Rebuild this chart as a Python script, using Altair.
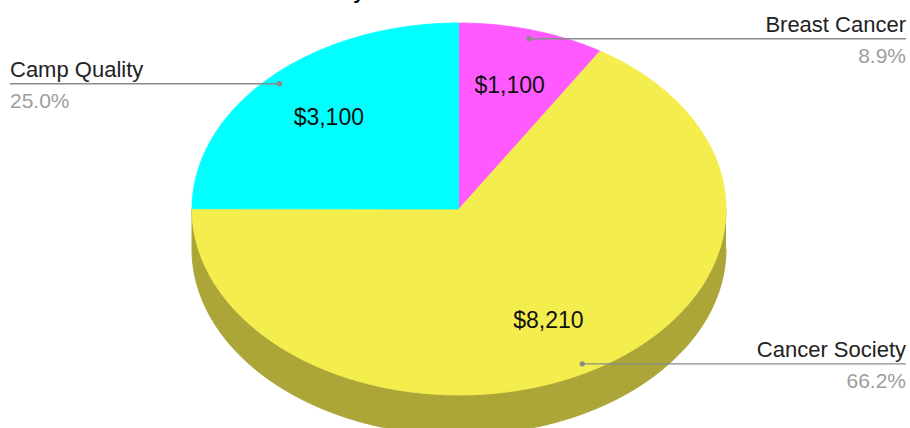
import altair as alt
import pandas as pd

# ---- data ----
labels = ["Breast Cancer", "Cancer Society", "Camp Quality"]
amounts = [1100, 8210, 3100]
top_colors = ["#ff5aff", "#f4ed4e", "#00ffff"]
side_colors = ["#a83ba8", "#aca639", "#00a8a8"]
title_text = "Money Raised for Cancer Charities"

# ---- layout (pixels) ----
W, H = 910, 428
CX, CY, RX, RY, DEPTH = 459, 209, 267, 186, 40
N = 120
LEFT_EDGE, RIGHT_EDGE = 10, 906
DOT_R = 0.952
VAL_R = 0.69
FONT = "Liberation Sans"

df = pd.DataFrame({"label": labels, "amount": amounts})

xs = alt.Scale(domain=[0, W], nice=False, zero=False)
ys = alt.Scale(domain=[0, H], nice=False, zero=False, reverse=True)
top_scale = alt.Scale(domain=labels, range=top_colors)
side_scale = alt.Scale(domain=labels, range=side_colors)

base = (
    alt.Chart(df)
    .transform_joinaggregate(total="sum(amount)")
    .transform_window(cum="sum(amount)", frame=[None, 0])
    .transform_calculate(a0="2*PI*(datum.cum - datum.amount)/datum.total")
    .transform_calculate(a1="2*PI*datum.cum/datum.total")
    .transform_calculate(frac="datum.amount/datum.total")
    .transform_calculate(mid="(datum.a0 + datum.a1)/2")
)

# front wall (3D depth)
wall = (
    base.transform_calculate(w0="max(datum.a0, PI/2)")
    .transform_calculate(w1="min(datum.a1, 3*PI/2)")
    .transform_filter("datum.w1 > datum.w0")
    .transform_calculate(s=f"sequence(0, {2 * N + 2})")
    .transform_flatten(["s"])
    .transform_calculate(
        ang=f"datum.s <= {N} ? datum.w0 + (datum.w1 - datum.w0) * datum.s / {N} "
        f": datum.w1 - (datum.w1 - datum.w0) * (datum.s - {N + 1}) / {N}"
    )
    .transform_calculate(dz=f"datum.s <= {N} ? 0 : {DEPTH}")
    .transform_calculate(px=f"{CX} + {RX} * sin(datum.ang)")
    .transform_calculate(py=f"{CY} - {RY} * cos(datum.ang) + datum.dz")
    .mark_line(strokeWidth=1, interpolate="linear")
    .encode(
        x=alt.X("px:Q", scale=xs, axis=None),
        y=alt.Y("py:Q", scale=ys, axis=None),
        fill=alt.Fill("label:N", scale=side_scale, legend=None),
        stroke=alt.Stroke("label:N", scale=side_scale, legend=None),
        order=alt.Order("s:Q"),
    )
)

# top faces
top = (
    base.transform_calculate(s=f"sequence(0, {N + 2})")
    .transform_flatten(["s"])
    .transform_calculate(ang=f"datum.a0 + (datum.a1 - datum.a0) * (datum.s - 1) / {N}")
    .transform_calculate(px=f"datum.s == 0 ? {CX} : {CX} + {RX} * sin(datum.ang)")
    .transform_calculate(py=f"datum.s == 0 ? {CY} : {CY} - {RY} * cos(datum.ang)")
    .mark_line(strokeWidth=0.8, interpolate="linear")
    .encode(
        x=alt.X("px:Q", scale=xs, axis=None),
        y=alt.Y("py:Q", scale=ys, axis=None),
        fill=alt.Fill("label:N", scale=top_scale, legend=None),
        stroke=alt.Stroke("label:N", scale=top_scale, legend=None),
        order=alt.Order("s:Q"),
    )
)

pie = alt.layer(wall, top).resolve_scale(fill="independent", stroke="independent")

anchors = (
    base.transform_calculate(dx=f"{CX} + {RX} * {DOT_R} * sin(datum.mid)")
    .transform_calculate(dy=f"{CY} - {RY} * {DOT_R} * cos(datum.mid)")
    .transform_calculate(edge=f"datum.mid > PI ? {LEFT_EDGE} : {RIGHT_EDGE}")
    .transform_calculate(ny="datum.dy - 7")
    .transform_calculate(pcty="datum.dy + 24.5")
)

leader = anchors.mark_rule(color="#8a8a8a", strokeWidth=1.4).encode(
    x=alt.X("dx:Q", scale=xs, axis=None),
    x2="edge:Q",
    y=alt.Y("dy:Q", scale=ys, axis=None),
)
dots = anchors.mark_circle(color="#8a8a8a", opacity=1, size=28).encode(
    x=alt.X("dx:Q", scale=xs, axis=None),
    y=alt.Y("dy:Q", scale=ys, axis=None),
)

def side_text(cond, align):
    part = anchors.transform_filter(cond)
    name = part.mark_text(
        align=align, baseline="alphabetic", font=FONT, fontSize=22, color="#222222"
    ).encode(
        x=alt.X("edge:Q", scale=xs, axis=None),
        y=alt.Y("ny:Q", scale=ys, axis=None),
        text="label:N",
    )
    pct = part.mark_text(
        align=align, baseline="alphabetic", font=FONT, fontSize=21, color="#9e9e9e"
    ).encode(
        x=alt.X("edge:Q", scale=xs, axis=None),
        y=alt.Y("pcty:Q", scale=ys, axis=None),
        text=alt.Text("frac:Q", format=".1%"),
    )
    return name + pct

left_text = side_text("datum.mid > PI", "left")
right_text = side_text("datum.mid <= PI", "right")

values = (
    base.transform_calculate(vx=f"{CX} + {RX} * {VAL_R} * sin(datum.mid)")
    .transform_calculate(vy=f"{CY} - {RY} * {VAL_R} * cos(datum.mid)")
    .mark_text(align="center", baseline="middle", font=FONT, fontSize=23, color="#111111")
    .encode(
        x=alt.X("vx:Q", scale=xs, axis=None),
        y=alt.Y("vy:Q", scale=ys, axis=None),
        text=alt.Text("amount:Q", format="$,.0f"),
    )
)

title = (
    alt.Chart(pd.DataFrame({"t": [title_text]}))
    .mark_text(align="left", baseline="alphabetic", font=FONT, fontSize=20, fontWeight="bold", color="#000000")
    .encode(x=alt.value(301), y=alt.value(-1), text="t:N")
)

chart = (
    alt.layer(pie, leader, dots, left_text, right_text, values, title)
    .properties(
        width=W,
        height=H,
        padding=0,
        autosize=alt.AutoSizeParams(type="none"),
        background="white",
    )
    .configure_view(strokeWidth=0)
)

chart.save("out.html", embed_options={"renderer": "svg", "actions": False})
